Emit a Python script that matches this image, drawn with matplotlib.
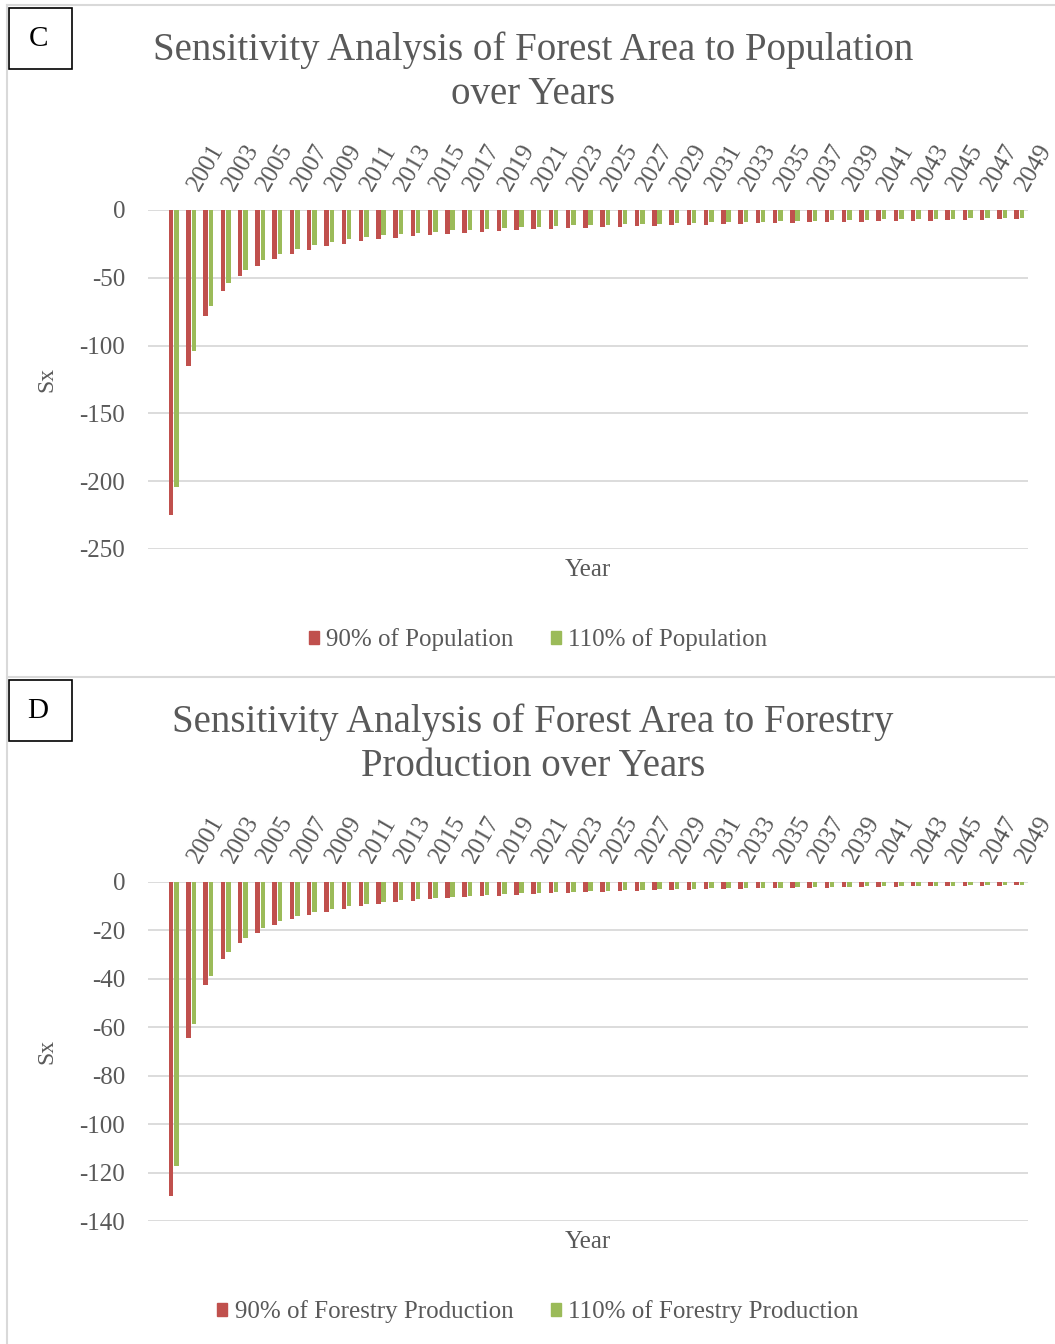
import matplotlib
matplotlib.use("Agg")
import matplotlib.pyplot as plt
from matplotlib.patches import Rectangle, Patch
from matplotlib.lines import Line2D
import matplotlib.transforms as mtransforms

plt.rcParams['font.family'] = ['Liberation Serif', 'DejaVu Serif']
plt.rcParams['axes.unicode_minus'] = False

# 年份与敏感度数据
years = list(range(2001, 2051))
tick_years = list(range(2001, 2050, 2))

pop_90 = [-225, -115, -78, -60, -49, -41.6, -36.4, -32.5, -29.5, -26.8,
          -24.9, -22.9, -21.6, -20.4, -19.2, -18.2, -17.5, -16.7, -16.0, -15.3,
          -14.8, -14.2, -13.8, -13.4, -13.0, -12.5, -12.2, -11.9, -11.5, -11.3,
          -11.0, -10.7, -10.4, -10.1, -9.9, -9.6, -9.4, -9.2, -9.0, -8.8,
          -8.6, -8.4, -8.2, -8.0, -7.8, -7.6, -7.4, -7.2, -7.0, -6.9]
pop_110 = [-204, -104, -71, -54, -44, -37, -32.2, -28.8, -25.8, -23.6,
           -21.6, -20.2, -18.7, -17.7, -16.7, -16.0, -15.0, -14.5, -13.8, -13.3,
           -12.5, -12.3, -11.6, -11.4, -11.3, -11.0, -10.6, -10.3, -10.0, -9.7,
           -9.4, -9.2, -8.9, -8.7, -8.5, -8.2, -8.0, -7.8, -7.6, -7.4,
           -7.2, -7.0, -6.9, -6.7, -6.5, -6.4, -6.2, -6.1, -6.0, -5.9]

prod_90 = [-129.5, -64.5, -42.8, -31.9, -25.4, -21.0, -17.9, -15.5, -13.7, -12.4,
           -11.1, -10.0, -9.3, -8.5, -8.0, -7.3, -6.9, -6.3, -6.0, -5.8,
           -5.4, -5.1, -4.8, -4.5, -4.4, -4.2, -4.0, -3.8, -3.6, -3.5,
           -3.3, -3.2, -3.0, -2.9, -2.8, -2.7, -2.6, -2.5, -2.4, -2.3,
           -2.2, -2.1, -2.0, -1.95, -1.9, -1.8, -1.75, -1.7, -1.6, -1.5]
prod_110 = [-117.5, -58.6, -38.8, -28.9, -23.1, -19.1, -16.2, -14.2, -12.5, -11.3,
            -10.0, -9.1, -8.4, -7.7, -7.1, -6.6, -6.2, -5.8, -5.4, -5.1,
            -4.8, -4.5, -4.3, -4.1, -3.8, -3.7, -3.5, -3.4, -3.2, -3.1,
            -3.0, -2.8, -2.7, -2.6, -2.5, -2.4, -2.3, -2.2, -2.1, -2.0,
            -1.95, -1.9, -1.8, -1.7, -1.65, -1.6, -1.5, -1.45, -1.4, -1.3]

pop_ticks = [0, -50, -100, -150, -200, -250]
prod_ticks = [0, -20, -40, -60, -80, -100, -120, -140]

RED = '#C0504D'
GREEN = '#9BBB59'
GRAY = '#595959'
GRID = '#D9D9D9'

W, H = 1055, 1344
fig = plt.figure(figsize=(W / 100, H / 100), dpi=100)


def fx(px):
    return px / W


def fy(py):
    return 1 - py / H


# 外框线
fig.add_artist(Line2D([fx(6.5), fx(6.5)], [fy(5), fy(H)], color=GRID, lw=1.5))
fig.add_artist(Line2D([fx(6.5), 1], [fy(5), fy(5)], color=GRID, lw=1.5))
fig.add_artist(Line2D([fx(6.5), 1], [fy(677), fy(677)], color=GRID, lw=1.5))


def draw_panel(letter, top, bottom, s90, s110, yticks, title, names, title_y, legend_y, year_y):
    # 面板字母框
    box_top = top - 202
    fig.add_artist(Rectangle((fx(9), fy(box_top + 61)), fx(63), 61 / H,
                             transform=fig.transFigure, fill=False, ec='black', lw=1.2))
    fig.text(fx(38), fy(box_top + 31), letter, fontsize=21, ha='center', va='center',
             color='black')

    ax = fig.add_axes([fx(148), fy(bottom), fx(1028 - 148), (bottom - top) / H])
    ax.bar([y - 0.155 for y in years], s90, width=0.26, color=RED, label=names[0], zorder=3)
    ax.bar([y + 0.155 for y in years], s110, width=0.26, color=GREEN, label=names[1], zorder=3)
    ax.set_xlim(1999.5, 2050.5)
    ax.set_ylim(yticks[-1], 0)
    ax.set_yticks(yticks)
    ax.set_yticklabels([str(t) for t in yticks], fontsize=18, color=GRAY)
    ax.tick_params(axis='y', length=0, pad=16.5)
    ax.set_xticks([])
    ax.grid(axis='y', color=GRID, lw=1.3, zorder=0)
    for sp in ax.spines.values():
        sp.set_visible(False)
    ax.set_ylabel('Sx', fontsize=17, color=GRAY)
    ax.yaxis.set_label_coords((57 - 148) / 880, 0.5)

    # 年份标签放在零线上方
    trans = mtransforms.blended_transform_factory(ax.transData, ax.transAxes)
    trans = mtransforms.offset_copy(trans, fig=fig, x=18, y=13, units='points')
    for yr in tick_years:
        ax.text(yr, 1.0, str(yr), transform=trans, rotation=60, rotation_mode='anchor',
                ha='left', va='baseline', fontsize=18, color=GRAY)

    fig.text(fx(588), fy(year_y), 'Year', fontsize=18, color=GRAY, ha='center', va='center')
    fig.text(fx(533), fy(title_y), title, fontsize=28, color=GRAY, ha='center', va='center',
             linespacing=1.25)

    handles = [Patch(color=RED), Patch(color=GREEN)]
    fig.legend(handles, names, loc='center', bbox_to_anchor=(fx(538), fy(legend_y)),
               ncol=2, frameon=False, fontsize=18, handlelength=0.4, handleheight=0.4,
               handletextpad=0.3, columnspacing=1.5, labelcolor=GRAY)
    return ax


draw_panel('C', 210, 549, pop_90, pop_110, pop_ticks,
           'Sensitivity Analysis of Forest Area to Population\nover Years',
           ['90% of Population', '110% of Population'], 72, 640, 570)
draw_panel('D', 881.7, 1221, prod_90, prod_110, prod_ticks,
           'Sensitivity Analysis of Forest Area to Forestry\nProduction over Years',
           ['90% of Forestry Production', '110% of Forestry Production'], 744, 1312, 1242)

fig.savefig('out.png', dpi=100)
